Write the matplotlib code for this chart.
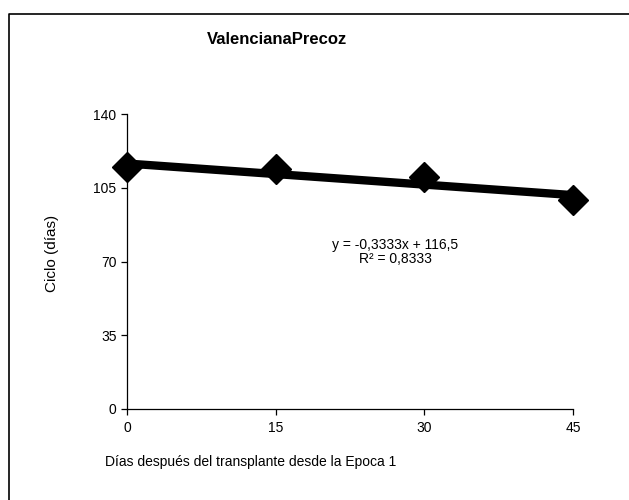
import numpy as np
import matplotlib.pyplot as plt
from matplotlib.lines import Line2D

plt.rcParams['font.family'] = ['Liberation Sans', 'DejaVu Sans']

# Datos
dias = [0, 15, 30, 45]
ciclo = [115, 114, 110, 99]
pendiente = -0.3333
intercepto = 116.5
r2 = 0.8333
y_ticks = [0, 35, 70, 105, 140]
x_ticks = [0, 15, 30, 45]

fig = plt.figure(figsize=(6.29, 5.0), dpi=100)
ax = fig.add_axes([127 / 629, 1 - 409 / 500, (573 - 127) / 629, (409 - 114) / 500])

# linea de tendencia
x_line = np.array([dias[0], dias[-1]])
ax.plot(x_line, pendiente * x_line + intercepto, color='black', lw=6,
        solid_capstyle='butt', zorder=2)
ax.plot(dias, ciclo, linestyle='none', marker='D', ms=15.5, color='black',
        zorder=3, clip_on=False)

ax.set_xlim(0, 45)
ax.set_ylim(0, 140)
ax.set_xticks(x_ticks)
ax.set_yticks(y_ticks)
ax.tick_params(labelsize=10, length=4, width=0.9, direction='out')
ax.tick_params(axis='x', pad=5)
for s in ['top', 'right']:
    ax.spines[s].set_visible(False)
for s in ['left', 'bottom']:
    ax.spines[s].set_linewidth(0.9)

fig.text(277 / 629, 1 - 40 / 500, 'ValencianaPrecoz', ha='center', va='center',
         fontsize=12, fontweight='bold')
fig.text(52 / 629, 1 - 253 / 500, 'Ciclo (días)', rotation=90, ha='center',
         va='center', fontsize=11)
fig.text(105 / 629, 1 - 462 / 500, 'Días después del transplante desde la Epoca 1',
         ha='left', va='center', fontsize=10)
fig.text(395 / 629, 1 - 252 / 500, 'y = -0,3333x + 116,5\nR² = 0,8333',
         ha='center', va='center', fontsize=10, linespacing=1.05)

# marco parcial (arriba e izquierda)
fig.lines.append(Line2D([9 / 629, 9 / 629, 1], [0, 1 - 14 / 500, 1 - 14 / 500],
                        transform=fig.transFigure, color='black', lw=1.2))

fig.savefig('out.png', dpi=100)
